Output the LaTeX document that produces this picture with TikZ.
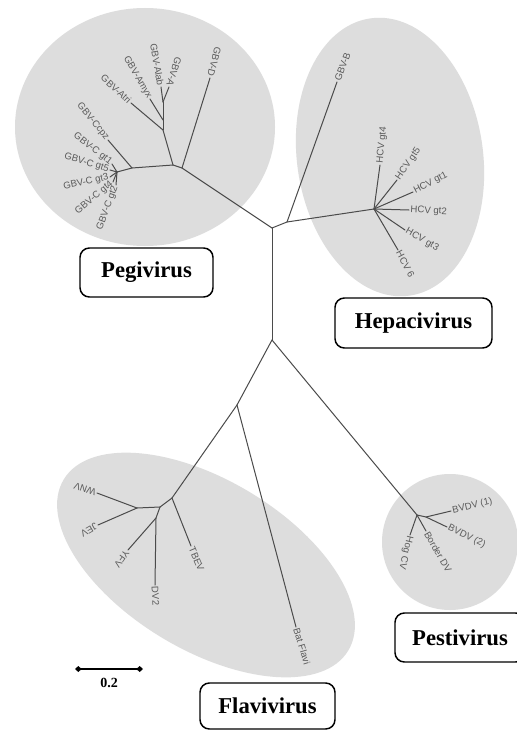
\documentclass[tikz,border=0pt]{standalone}
\usepackage{fontspec}
\setmainfont{Liberation Serif}
\newfontfamily\lblfont{Liberation Sans}
\usetikzlibrary{arrows.meta}
\definecolor{cladefill}{RGB}{221,221,221}
\definecolor{branchcol}{RGB}{75,75,75}
\definecolor{tipcol}{RGB}{90,90,90}
\begin{document}
\begin{tikzpicture}[x=0.75pt,y=-0.75pt,
  branch/.style={draw=branchcol,line width=0.75pt,line cap=round},
  tip/.style={font=\lblfont\fontsize{7.2}{8}\selectfont, text=tipcol, inner sep=1pt},
  tipw/.style={tip, anchor=west, rotate=#1},
  tipe/.style={tip, anchor=east, rotate=#1},
  clade/.style={fill=cladefill},
  groupbox/.style={draw=black, line width=1.1pt, rounded corners=7pt, fill=white, inner sep=0pt},
  grouplabel/.style={font=\bfseries\fontsize{17}{20}\selectfont}
]
\useasboundingbox (0,0) rectangle (517,731);
\clip (0,0) rectangle (517,731);
\fill[white] (0,0) rectangle (517,731);

% clade shading
\fill[clade] (145,127) ellipse [x radius=130, y radius=119];
\fill[clade, rotate around={8:(390,157)}] (390,157) ellipse [x radius=93, y radius=140];
\fill[clade, rotate around={-31:(206,565)}] (206,565) ellipse [x radius=166, y radius=85];
\fill[clade] (450,542) ellipse [x radius=68, y radius=68];

% ---------- tree coordinates ----------
\coordinate (T) at (272,228);
\coordinate (L) at (272,340);
% Pegivirus
\coordinate (P2) at (182,168);
\coordinate (P1) at (173,165);
\coordinate (A1) at (163,130);
\coordinate (A2) at (163,120);
\coordinate (A3) at (163,102);
\coordinate (Q) at (132,168);
\coordinate (C) at (117,172);
\coordinate (tGBVD) at (210,78);
\coordinate (tGBVA) at (169,87);
\coordinate (tAlab) at (161,87);
\coordinate (tAmyx) at (150,99);
\coordinate (tAtri) at (131,103);
\coordinate (tCcpz) at (108,140);
\coordinate (tC1) at (112,164);
\coordinate (tC5) at (110,170);
\coordinate (tC3) at (110,177);
\coordinate (tC4) at (113,182);
\coordinate (tC2) at (116,185);
% Hepacivirus
\coordinate (B) at (287,222);
\coordinate (H) at (374,209);
\coordinate (tGBVB) at (337,82);
\coordinate (tH4) at (380,165);
\coordinate (tH5) at (397,180);
\coordinate (tH1) at (413,192);
\coordinate (tH2) at (409,210);
\coordinate (tH3) at (405,230);
\coordinate (tH6) at (398,250);
% Flavivirus
\coordinate (F1) at (237,405);
\coordinate (FN) at (172,498);
\coordinate (N2) at (160,507);
\coordinate (N3) at (137,508);
\coordinate (N4) at (156,518);
\coordinate (tWNV) at (97,493);
\coordinate (tJEV) at (98,525);
\coordinate (tYFV) at (128,550);
\coordinate (tDV2) at (155,585);
\coordinate (tTBEV) at (191,546);
\coordinate (tBat) at (296,627);
% Pestivirus
\coordinate (PN) at (417,515);
\coordinate (PN2) at (426,517);
\coordinate (tBV1) at (451,511);
\coordinate (tBV2) at (447,527);
\coordinate (tBor) at (426,531);
\coordinate (tHog) at (410,535);

% ---------- branches ----------
\draw[branch] (T) -- (L);
\draw[branch] (T) -- (P2);
\draw[branch] (T) -- (B);
\draw[branch] (B) -- (H);
\draw[branch] (B) -- (tGBVB);
\draw[branch] (P2) -- (P1);
\draw[branch] (P2) -- (tGBVD);
\draw[branch] (P1) -- (A1);
\draw[branch] (A1) -- (tAtri);
\draw[branch] (A1) -- (A2);
\draw[branch] (A2) -- (tAmyx);
\draw[branch] (A2) -- (A3);
\draw[branch] (A3) -- (tAlab);
\draw[branch] (A3) -- (tGBVA);
\draw[branch] (P1) -- (Q);
\draw[branch] (Q) -- (tCcpz);
\draw[branch] (Q) -- (C);
\foreach \t in {tC1,tC5,tC3,tC4,tC2} \draw[branch] (C) -- (\t);
\foreach \t in {tH4,tH5,tH1,tH2,tH3,tH6} \draw[branch] (H) -- (\t);
\draw[branch] (L) -- (F1);
\draw[branch] (L) -- (PN);
\draw[branch] (F1) -- (FN);
\draw[branch] (F1) -- (tBat);
\draw[branch] (FN) -- (tTBEV);
\draw[branch] (FN) -- (N2);
\draw[branch] (N2) -- (N3);
\draw[branch] (N3) -- (tWNV);
\draw[branch] (N3) -- (tJEV);
\draw[branch] (N2) -- (N4);
\draw[branch] (N4) -- (tYFV);
\draw[branch] (N4) -- (tDV2);
\draw[branch] (PN) -- (PN2);
\draw[branch] (PN2) -- (tBV1);
\draw[branch] (PN2) -- (tBV2);
\draw[branch] (PN) -- (tBor);
\draw[branch] (PN) -- (tHog);

% ---------- tip labels ----------
\node[tipe=-105] (lGBVD) at (tGBVD) {GBV-D};
\node[tipe=-108] (lGBVA) at (tGBVA) {GBV-A};
\node[tipe=-80] (lAlab) at (tAlab) {GBV-Alab};
\node[tipe=-60] (lAmyx) at (tAmyx) {GBV-Amyx};
\node[tipe=-43] (lAtri) at (tAtri) {GBV-Atri};
\node[tipe=-51] (lCcpz) at (tCcpz) {GBV-Ccpz};
\node[tipe=-38] (lC1) at (tC1) {GBV-C gt1};
\node[tipe=-17] (lC5) at (tC5) {GBV-C gt5};
\node[tipe=12] (lC3) at (tC3) {GBV-C gt3};
\node[tipe=40] (lC4) at (tC4) {GBV-C gt4};
\node[tipe=70] (lC2) at (tC2) {GBV-C gt2};

\node[tipw=70] (lGBVB) at (tGBVB) {GBV-B};
\node[tipw=84] (lH4) at (tH4) {HCV gt4};
\node[tipw=55] (lH5) at (tH5) {HCV gt5};
\node[tipw=27] (lH1) at (tH1) {HCV gt1};
\node[tipw=-3] (lH2) at (tH2) {HCV gt2};
\node[tipw=-30] (lH3) at (tH3) {HCV gt3};
\node[tipw=-62] (lH6) at (tH6) {HCV 6};

\node[tipw=162] (lWNV) at (tWNV) {WNV};
\node[tipw=210] (lJEV) at (tJEV) {JEV};
\node[tipw=235] (lYFV) at (tYFV) {YFV};
\node[tipw=-87] (lDV2) at (tDV2) {DV2};
\node[tipw=-67] (lTBEV) at (tTBEV) {TBEV};
\node[tipw=-73] (lBat) at (tBat) {Bat Flavi};

\node[tipw=13] (lBV1) at (tBV1) {BVDV (1)};
\node[tipw=-26] (lBV2) at (tBV2) {BVDV (2)};
\node[tipw=-60] (lBor) at (tBor) {Border DV};
\node[tipw=-104] (lHog) at (tHog) {Hog CV};

% ---------- group boxes ----------
\node[groupbox, grouplabel, minimum width=99.75pt, minimum height=36.75pt] (pegibox) at (146.5,272.5) {Pegivirus};
\node[groupbox, grouplabel, minimum width=117.75pt, minimum height=37.5pt] (hepabox) at (413.5,323) {Hepacivirus};
\node[groupbox, grouplabel, minimum width=97.5pt, minimum height=36.75pt] (pestibox) at (460,637.5) {Pestivirus};
\node[groupbox, grouplabel, minimum width=101.25pt, minimum height=34.5pt] (flavibox) at (267.5,706) {Flavivirus};

% ---------- scale bar ----------
\coordinate (sbL) at (75,669);
\coordinate (sbR) at (143,669);
\draw[line width=1.5pt, {Diamond[length=5pt,width=4.5pt]}-{Diamond[length=5pt,width=4.5pt]}] (sbL) -- (sbR);
\node[font=\bfseries\fontsize{10.5}{12}\selectfont, inner sep=0pt] (sblbl) at (109,682.5) {0.2};
\end{tikzpicture}
\end{document}
